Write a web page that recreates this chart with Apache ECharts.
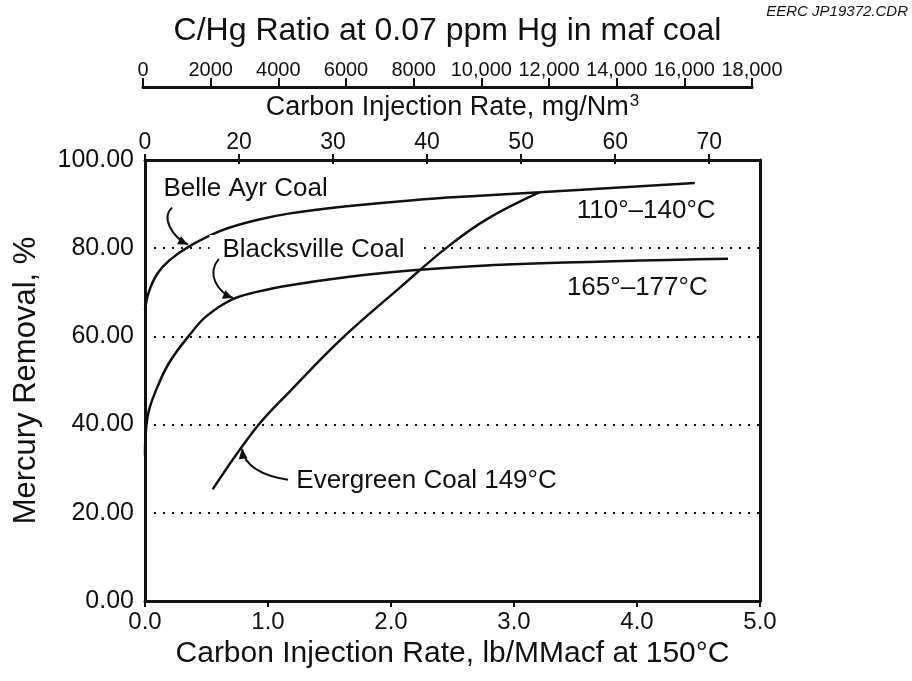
<!DOCTYPE html>
<html>
<head>
<meta charset="utf-8">
<title>Mercury removal vs carbon injection rate</title>
<script src="https://cdn.jsdelivr.net/npm/echarts@6/dist/echarts.min.js"></script>
<style>
    html, body { margin: 0; padding: 0; background: #fff; }
    #main { width: 912px; height: 681px; }
</style>
</head>
<body>
<div id="main"></div>
<script>
// 数据 (lb/MMacf, % removal)
const belleAyrX = [0, 0.03, 0.10, 0.20, 0.37, 0.63, 0.91, 1.18, 1.64, 2.18, 2.72, 3.21, 4.47];
const belleAyrY = [66, 70.0, 74.2, 77.3, 80.6, 84.1, 86.4, 87.9, 89.5, 90.9, 91.9, 92.7, 94.8];

// 起点沿纵轴 (0 ~ 33%) 与坐标轴重合
const blacksvilleX = [0, 0.006, 0.03, 0.10, 0.20, 0.37, 0.50, 0.71, 0.91, 1.18, 1.60, 2.18, 3.05, 4.74];
const blacksvilleY = [33, 38, 43, 48.5, 54.2, 60.6, 64.6, 68.4, 70.1, 71.6, 73.3, 75.0, 76.4, 77.6];

const evergreenX = [0.55, 0.91, 1.18, 1.60, 2.07, 2.46, 2.78, 3.21];
const evergreenY = [25.3, 39.5, 47.6, 59.5, 71.0, 80.3, 86.6, 92.7];

// 顶部刻度
const mgTickValues = [10, 20, 30, 40, 50, 60, 70];
const mgTickLabels = ['0', '20', '30', '40', '50', '60', '70'];
const chgTickValues = [0, 2000, 4000, 6000, 8000, 10000, 12000, 14000, 16000, 18000];
const chgTickLabels = ['0', '2000', '4000', '6000', '8000', '10,000', '12,000', '14,000', '16,000', '18,000'];

// 标注
const noteText = ['Belle Ayr Coal', 'Blacksville Coal', '110°–140°C', '165°–177°C', 'Evergreen Coal 149°C'];
const noteAt = [[0.15, 93.5], [0.63, 79.6], [3.51, 88.5], [3.43, 71.1], [1.23, 27.3]];
// 箭头 (起点, 控制点1, 控制点2, 终点)
const arrowPaths = [
    [[0.22, 89.2], [0.13, 86.9], [0.22, 82.6], [0.35, 80.8]],
    [[0.60, 77.6], [0.50, 74.2], [0.585, 70.1], [0.715, 68.7]],
    [[1.163, 27.5], [0.951, 28.4], [0.805, 30.7], [0.789, 34.5]]
];

const FONT = "'Liberation Sans', Arial, Helvetica, sans-serif";
const INK = '#111';

const zip = (xs, ys) => xs.map((x, i) => [x, ys[i]]);

const lineSeries = (name, data) => ({
    name,
    type: 'line',
    data,
    xAxisIndex: 0,
    yAxisIndex: 0,
    smooth: 0.4,
    showSymbol: false,
    symbol: 'none',
    silent: true,
    lineStyle: {color: INK, width: 2.5},
    z: 5
});

const chart = echarts.init(document.getElementById('main'));

const option = {
    animation: false,
    backgroundColor: '#fff',
    textStyle: {fontFamily: FONT, color: INK},
    grid: [
        {left: 145, right: 152, top: 160, bottom: 80},
        {left: 143, right: 160, top: 87, height: 1}
    ],
    xAxis: [
        {   // 底部 lb/MMacf
            type: 'value', gridIndex: 0, position: 'bottom',
            min: 0, max: 5, interval: 1,
            name: 'Carbon Injection Rate, lb/MMacf at 150°C',
            nameLocation: 'middle', nameGap: 32,
            nameTextStyle: {fontSize: 30, color: INK, fontFamily: FONT},
            axisLine: {onZero: false, lineStyle: {color: INK, width: 3}},
            axisTick: {length: 6, lineStyle: {color: INK, width: 2}},
            axisLabel: {fontSize: 24, color: INK, margin: 9, formatter: v => v.toFixed(1)},
            splitLine: {show: false}
        },
        {   // 顶部 mg/Nm3
            type: 'value', gridIndex: 0, position: 'top',
            min: 10, max: 75.4, interval: 10,
            name: 'Carbon Injection Rate, mg/Nm{sup|3}',
            nameLocation: 'middle', nameGap: 38,
            nameTextStyle: {
                fontSize: 27, color: INK, fontFamily: FONT,
                rich: {sup: {fontSize: 17, color: INK, fontFamily: FONT, verticalAlign: 'top', padding: [0, 0, 12, 1]}}
            },
            axisLine: {onZero: false, lineStyle: {color: INK, width: 3}},
            axisTick: {length: 6, customValues: mgTickValues, lineStyle: {color: INK, width: 2}},
            axisLabel: {
                fontSize: 23, color: INK, margin: 6, customValues: mgTickValues,
                formatter: v => mgTickLabels[mgTickValues.indexOf(v)]
            },
            splitLine: {show: false}
        },
        {   // 顶部内侧刻度
            type: 'value', gridIndex: 0, position: 'top',
            min: 10, max: 75.4, interval: 10,
            axisLine: {show: false, onZero: false},
            axisTick: {inside: true, length: 4, customValues: mgTickValues, lineStyle: {color: INK, width: 2}},
            axisLabel: {show: false},
            splitLine: {show: false}
        },
        {   // C/Hg
            type: 'value', gridIndex: 1, position: 'top',
            min: 0, max: 18000, interval: 2000,
            name: 'C/Hg Ratio at 0.07 ppm Hg in maf coal',
            nameLocation: 'middle', nameGap: 40,
            nameTextStyle: {fontSize: 32, color: INK, fontFamily: FONT},
            axisLine: {onZero: false, lineStyle: {color: INK, width: 3}},
            axisTick: {length: 9, lineStyle: {color: INK, width: 2}},
            axisLabel: {
                fontSize: 20, color: INK, margin: 7,
                formatter: v => chgTickLabels[chgTickValues.indexOf(v)]
            },
            splitLine: {show: false}
        }
    ],
    yAxis: [
        {
            type: 'value', gridIndex: 0, position: 'left',
            min: 0, max: 100, interval: 20,
            name: 'Mercury Removal, %',
            nameLocation: 'middle', nameGap: 103,
            nameTextStyle: {fontSize: 31, color: INK, fontFamily: FONT},
            axisLine: {onZero: false, lineStyle: {color: INK, width: 3}},
            axisTick: {show: false},
            axisLabel: {fontSize: 25, color: INK, margin: 11, formatter: v => v.toFixed(2)},
            splitLine: {show: true, lineStyle: {color: INK, width: 2, type: [2, 7]}}
        },
        {
            type: 'value', gridIndex: 0, position: 'right',
            min: 0, max: 100,
            axisLine: {show: true, onZero: false, lineStyle: {color: INK, width: 3}},
            axisTick: {show: false},
            axisLabel: {show: false},
            splitLine: {show: false}
        },
        {type: 'value', gridIndex: 1, min: 0, max: 1, show: false}
    ],
    series: [
        lineSeries('Belle Ayr Coal', zip(belleAyrX, belleAyrY)),
        lineSeries('Blacksville Coal', zip(blacksvilleX, blacksvilleY)),
        lineSeries('Evergreen Coal', zip(evergreenX, evergreenY))
    ]
};
chart.setOption(option);

// 标注与箭头
const toPx = p => chart.convertToPixel({xAxisIndex: 0, yAxisIndex: 0}, p);

const arrowHead = (tip, from) => {
    let dx = tip[0] - from[0], dy = tip[1] - from[1];
    let len = Math.sqrt(dx * dx + dy * dy) || 1;
    let ux = dx / len, uy = dy / len;
    let bx = tip[0] - ux * 10, by = tip[1] - uy * 10;
    return [tip, [bx - uy * 4.5, by + ux * 4.5], [bx + uy * 4.5, by - ux * 4.5]];
};

let elements = [];
noteText.forEach((t, i) => {
    let p = toPx(noteAt[i]);
    let style = {
        text: t, x: 0, y: 0, fontSize: 26, fontFamily: FONT, fill: INK,
        align: 'left', verticalAlign: 'middle'
    };
    if (i === 1) {
        style.backgroundColor = '#fff';
        style.padding = [2, 16, 2, 13];
    }
    elements.push({type: 'text', x: p[0] - (i === 1 ? 13 : 0), y: p[1], z: 10, style});
});

arrowPaths.forEach(path => {
    let pts = path.map(toPx);
    elements.push({
        type: 'bezierCurve', z: 11,
        shape: {
            x1: pts[0][0], y1: pts[0][1],
            cpx1: pts[1][0], cpy1: pts[1][1],
            cpx2: pts[2][0], cpy2: pts[2][1],
            x2: pts[3][0], y2: pts[3][1]
        },
        style: {stroke: INK, lineWidth: 2, fill: null}
    });
    elements.push({
        type: 'polygon', z: 11,
        shape: {points: arrowHead(pts[3], pts[2])},
        style: {fill: INK}
    });
});

elements.push({
    type: 'text', right: 4, top: 4, z: 10,
    style: {text: 'EERC JP19372.CDR', fontSize: 15, fontStyle: 'italic', fontFamily: FONT, fill: INK}
});

chart.setOption({graphic: elements});
</script>
</body>
</html>
